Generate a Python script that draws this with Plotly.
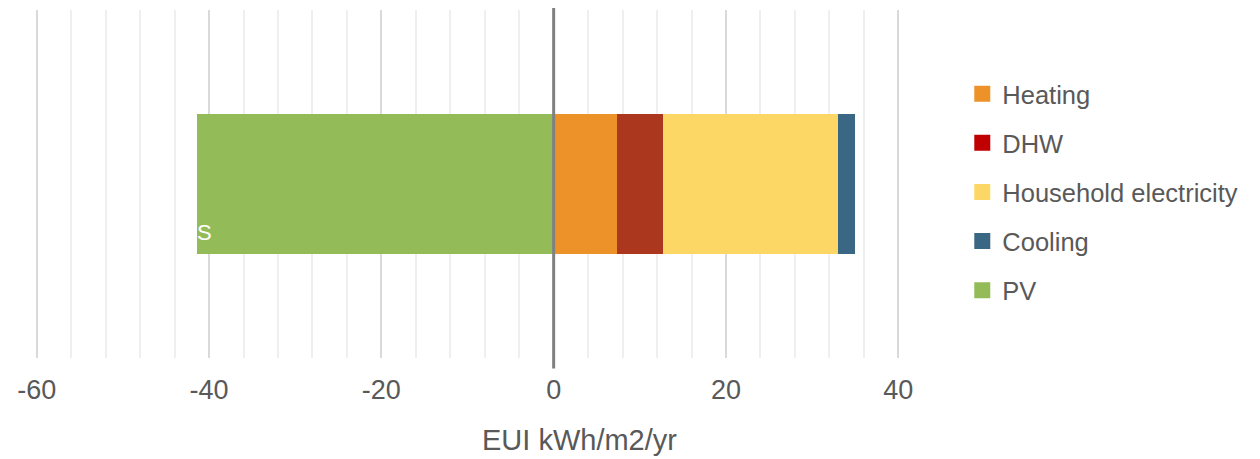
import plotly.graph_objects as go

# Energy use intensity balance for a single case (kWh/m2/yr)
category = ["S"]
series_names = ["Heating", "DHW", "Household electricity", "Cooling", "PV"]
series_values = [7.4, 5.3, 20.3, 2.0, -41.4]
bar_colors = ["#EC9229", "#AB381E", "#FDD765", "#3A6783", "#93BC59"]
legend_colors = ["#EC9229", "#C00000", "#FDD765", "#3A6783", "#93BC59"]
x_ticks = [-60, -40, -20, 0, 20, 40]
x_title = "EUI kWh/m2/yr"

FONT = "Liberation Sans"
TEXT = "#595959"

fig = go.Figure()

# Stacked horizontal bars (PV drawn to the negative side)
for name, val, col in zip(series_names, series_values, bar_colors):
    fig.add_trace(go.Bar(
        x=[val], y=category, orientation="h", name=name,
        marker=dict(color=col, line=dict(width=0)),
        width=0.4, showlegend=False,
    ))

# Legend entries with square swatches, one group each for even spacing
for name, col in zip(series_names, legend_colors):
    fig.add_trace(go.Scatter(
        x=[None], y=[None], mode="markers", name=name, legendgroup=name,
        marker=dict(symbol="square", size=16, color=col),
    ))

# Category label, white text on the bar
fig.add_annotation(
    x=-39.4, y=category[0], xref="x", yref="y", text=category[0],
    showarrow=False, xanchor="right", yanchor="middle", yshift=-48,
    font=dict(family=FONT, size=22, color="white"),
)

# X-axis title, set right of the plot centre
fig.add_annotation(
    x=0.63, y=-0.236, xref="paper", yref="paper", text=x_title,
    showarrow=False, xanchor="center", yanchor="middle",
    font=dict(family=FONT, size=29, color=TEXT),
)

# Heavy zero reference line reaching slightly past the plot area
fig.add_shape(
    type="line", xref="x", yref="paper", x0=0, x1=0, y0=-0.03, y1=1.006,
    line=dict(color="#808080", width=3), layer="above",
)

fig.update_layout(
    width=1260, height=459,
    margin=dict(l=35, r=360, t=10, b=101),
    paper_bgcolor="white", plot_bgcolor="white",
    barmode="relative", bargap=0,
    font=dict(family=FONT, color=TEXT),
    legend=dict(
        x=1.072, xanchor="left", y=0.826, yanchor="top",
        font=dict(family=FONT, size=25.5, color=TEXT),
        traceorder="grouped", tracegroupgap=13, itemsizing="trace",
        bgcolor="rgba(0,0,0,0)",
    ),
    xaxis=dict(
        range=[-60.2, 40.2], tickvals=x_ticks, ticktext=[str(v) for v in x_ticks],
        showgrid=True, gridcolor="#d9d9d9", gridwidth=2,
        minor=dict(dtick=4, showgrid=True, gridcolor="#efefef", gridwidth=2),
        zeroline=False, showline=False, ticks="",
        tickfont=dict(family=FONT, size=27, color=TEXT),
        ticklabelstandoff=13,
    ),
    yaxis=dict(
        range=[-0.5, 0.5], showticklabels=False, showgrid=False,
        zeroline=False, showline=False, ticks="",
    ),
)

fig.write_html("out.html")
